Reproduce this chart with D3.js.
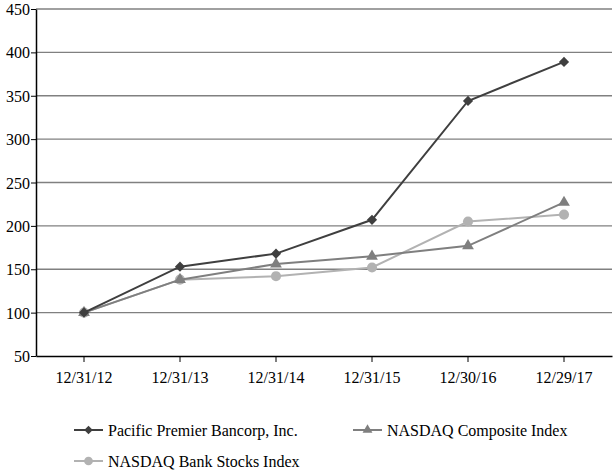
<!DOCTYPE html>
<html>
<head>
<meta charset="utf-8">
<script src="https://cdn.jsdelivr.net/npm/d3@7"></script>
<style>
  body { margin: 0; background: #fff; }
  text { font-family: "Liberation Serif", "Times New Roman", serif; }
</style>
</head>
<body>
<svg width="613" height="470"></svg>
<script>
// data
var dates = ["12/31/12", "12/31/13", "12/31/14", "12/31/15", "12/30/16", "12/29/17"];
var pacificPremier = [100, 153, 168, 207, 344, 389];
var nasdaqComposite = [100, 138, 156, 165, 177, 227];
var nasdaqBank = [100, 138, 142, 152, 205, 213];
var yTicks = [50, 100, 150, 200, 250, 300, 350, 400, 450];

// diamond = square turned 45 degrees, circle and triangle as is
var series = [
  {name: "Pacific Premier Bancorp, Inc.", values: pacificPremier, color: "#3f3f3f", shape: d3.symbolSquare, rot: 45, size: 52, lsize: 36},
  {name: "NASDAQ Composite Index", values: nasdaqComposite, color: "#7f7f7f", shape: d3.symbolTriangle, rot: 0, size: 60, lsize: 42},
  {name: "NASDAQ Bank Stocks Index", values: nasdaqBank, color: "#b2b2b2", shape: d3.symbolCircle, rot: 0, size: 80, lsize: 60}
];

var svg = d3.select("svg");
var plotLeft = 36, plotRight = 612, plotTop = 9, plotBottom = 356;

var x = d3.scaleBand().domain(dates).range([plotLeft, plotRight]);
var y = d3.scaleLinear().domain([50, 450]).range([plotBottom, plotTop]);

// gridlines
svg.append("g").selectAll("line")
  .data(yTicks.slice(1))
  .enter().append("line")
  .attr("x1", plotLeft).attr("x2", plotRight)
  .attr("y1", function(d) { return y(d); })
  .attr("y2", function(d) { return y(d); })
  .attr("stroke", "#808080")
  .attr("stroke-width", 1.3);

// y axis
var yAxis = svg.append("g")
  .attr("transform", "translate(" + plotLeft + ",0)")
  .call(d3.axisLeft(y).tickValues(yTicks).tickSize(5).tickSizeOuter(0));
yAxis.select(".domain").attr("stroke", "#000").attr("stroke-width", 1.5);
yAxis.selectAll(".tick line").attr("stroke", "#000");
yAxis.selectAll("text")
  .attr("font-family", "Liberation Serif")
  .attr("font-size", 16).attr("fill", "#000")
  .attr("x", -6).attr("dy", "0.35em");

// x axis
var xAxis = svg.append("g")
  .attr("transform", "translate(0," + plotBottom + ")")
  .call(d3.axisBottom(x).tickSize(6).tickSizeOuter(0));
xAxis.select(".domain").attr("stroke", "#000").attr("stroke-width", 1.5);
xAxis.selectAll(".tick line").attr("stroke", "#000");
xAxis.selectAll("text")
  .attr("font-family", "Liberation Serif")
  .attr("font-size", 16).attr("fill", "#000")
  .attr("y", 16);

var cx = function(i) { return x(dates[i]) + x.bandwidth() / 2; };

var line = d3.line()
  .x(function(d, i) { return cx(i); })
  .y(function(d) { return y(d); });

// draw lighter series first so darker ones sit on top
series.slice().reverse().forEach(function(s) {
  var g = svg.append("g");
  g.append("path")
    .datum(s.values)
    .attr("d", line)
    .attr("fill", "none")
    .attr("stroke", s.color)
    .attr("stroke-width", 2);
  g.selectAll("path.pt")
    .data(s.values)
    .enter().append("path")
    .attr("class", "pt")
    .attr("d", d3.symbol().type(s.shape).size(s.size))
    .attr("transform", function(d, i) { return "translate(" + cx(i) + "," + y(d) + ") rotate(" + s.rot + ")"; })
    .attr("fill", s.color);
});

// legend
var legendPos = [[74, 430], [353, 430], [74, 461]];
series.forEach(function(s, i) {
  var p = legendPos[i];
  var lg = svg.append("g").attr("transform", "translate(" + p[0] + "," + p[1] + ")");
  lg.append("line")
    .attr("x1", 0).attr("x2", 29)
    .attr("stroke", s.color).attr("stroke-width", 2);
  lg.append("path")
    .attr("d", d3.symbol().type(s.shape).size(s.lsize))
    .attr("transform", "translate(14.5,0) rotate(" + s.rot + ")")
    .attr("fill", s.color);
  lg.append("text")
    .attr("x", 34).attr("dy", "0.35em")
    .attr("font-size", 16)
    .text(s.name);
});
</script>
</body>
</html>
